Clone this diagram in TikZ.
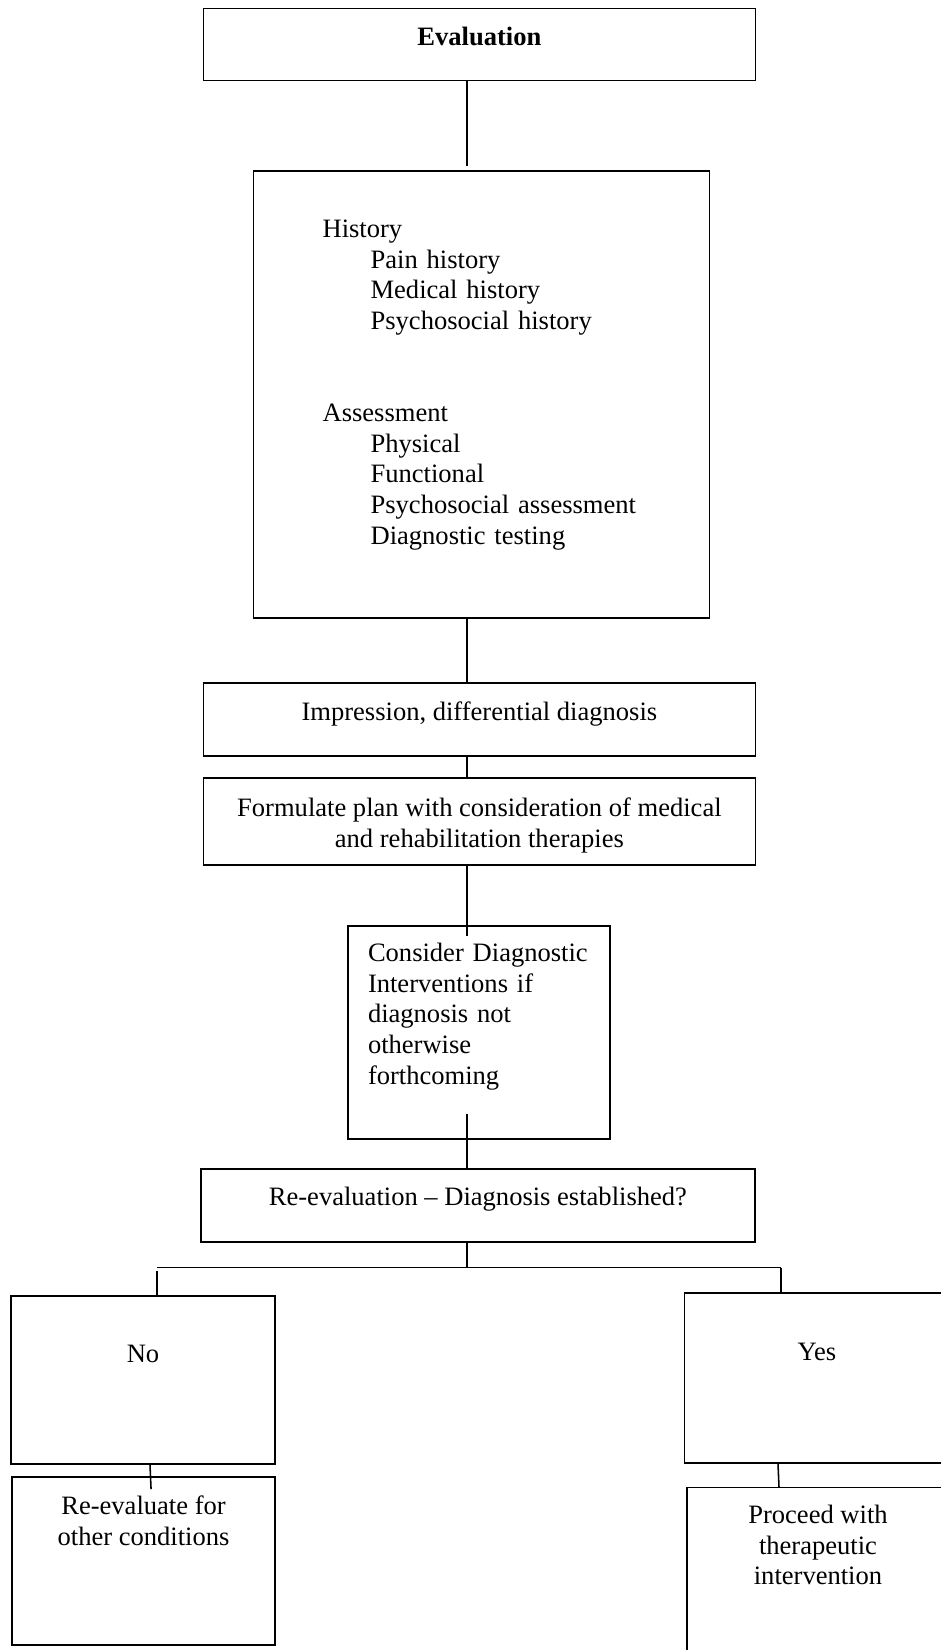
\documentclass[tikz,border=0pt]{standalone}
\usepackage{fontspec}
\setmainfont{Liberation Serif}
\newlength{\unitpx}
\setlength{\unitpx}{0.452pt}

\begin{document}
\begin{tikzpicture}[x=\unitpx, y=-\unitpx,
  every node/.style = {shape=rectangle, draw, line width=0.7pt,
    inner sep=0pt, align=center, text height=18\unitpx,
    font=\fontsize{12}{13.83}\selectfont}]
    \tikzstyle{link}=[line width=0.7pt]
    \tikzstyle{wide}=[minimum width=552\unitpx, minimum height=72\unitpx]
    \tikzstyle{branch}=[minimum width=264\unitpx, minimum height=168\unitpx]
  \useasboundingbox (0,0) rectangle (941,1650);
  \clip (0,0) rectangle (941,1650);
  % main column
  \node [wide, text depth=16.6\unitpx] (eval) at (479.4,44.3) {\textbf{Evaluation}};
  \node [minimum width=456\unitpx, minimum height=447\unitpx,
    align=left, text width=318\unitpx, text depth=332.4\unitpx] (hist) at (481.6,394.6)
    {History\\
     \hspace*{48\unitpx}Pain history\\
     \hspace*{48\unitpx}Medical history\\
     \hspace*{48\unitpx}Psychosocial history\\[62\unitpx]
     Assessment\\
     \hspace*{48\unitpx}Physical\\
     \hspace*{48\unitpx}Functional\\
     \hspace*{48\unitpx}Psychosocial assessment\\
     \hspace*{48\unitpx}Diagnostic testing};
  \node [wide, minimum height=73\unitpx, text depth=17.4\unitpx] (impr) at (479.4,719.7)
    {Impression, differential diagnosis};
  \node [wide, minimum height=87\unitpx, text height=68.2\unitpx, text depth=17\unitpx] (form) at (479.4,821.4)
    {Formulate plan with consideration of medical\\and rehabilitation therapies};
  \node [minimum width=262\unitpx, minimum height=213\unitpx,
    align=left, text width=222\unitpx, text depth=159.4\unitpx] (cons) at (479,1032.4)
    {Consider Diagnostic\\Interventions if\\diagnosis not\\otherwise\\forthcoming};
  \node [wide, minimum width=554\unitpx, minimum height=73\unitpx, text depth=18.8\unitpx] (reeval) at (477.9,1205.4)
    {Re-evaluation -- Diagnosis established?};
  % outcomes
  \node [branch, text depth=52.6\unitpx] (no) at (143,1380) {No};
  \node [branch, minimum width=263\unitpx, text depth=49.8\unitpx] (redo) at (143.5,1561)
    {Re-evaluate for\\other conditions};
  \node [branch, minimum width=265\unitpx, minimum height=170\unitpx, text depth=53.8\unitpx] (yes) at (817,1377.9) {Yes};
  \node [branch, minimum width=262\unitpx, text height=43.8\unitpx, text depth=18\unitpx] (go) at (818,1571.7)
    {Proceed with\\therapeutic\\intervention};
  \coordinate (spine) at (467,0);
  \coordinate (fork) at (467,1267.5);
  \coordinate (forkno) at (157,1267.5);
  \coordinate (forkyes) at (781,1267.5);
  \draw [link, shorten >=4.5\unitpx] (eval.south -| spine) -- (hist.north -| spine);
  \draw [link] (hist.south -| spine) -- (impr.north -| spine);
  \draw [link] (impr.south -| spine) -- (form.north -| spine);
  \draw [link, shorten >=-10.5\unitpx] (form.south -| spine) -- (cons.north -| spine);
  \draw [link, shorten <=-26\unitpx] (cons.south -| spine) -- (reeval.north -| spine);
  \draw [link] (reeval.south -| spine) -- (fork);
  \draw [link] (forkno) -- (forkyes);
  \draw [link, shorten <=3\unitpx] (forkno) -- (no.north -| forkno);
  \draw [link] (forkyes) -- (yes.north -| forkyes);
  \draw [link, shorten >=-13\unitpx] ([xshift=7\unitpx]no.south) -- ([xshift=7\unitpx]redo.north);
  \draw [link] ([xshift=-39\unitpx]yes.south) -- ([xshift=-39\unitpx]go.north);
\end{tikzpicture}
\end{document}
